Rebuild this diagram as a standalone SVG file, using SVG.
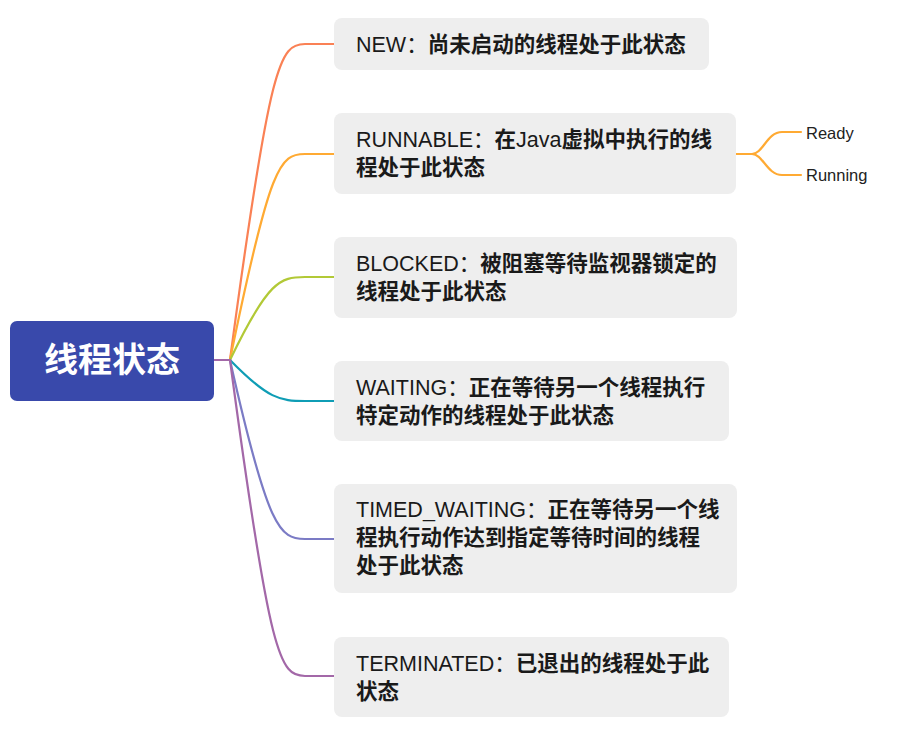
<svg xmlns="http://www.w3.org/2000/svg" width="906" height="734" viewBox="0 0 906 734">
<style>
.box{fill:#eeeeee;}
.t{font-family:"Liberation Sans","Noto Sans CJK SC",sans-serif;font-size:21.5px;fill:#1a1a1a;}
.b{font-weight:bold;}
.sub{font-family:"Liberation Sans","Noto Sans CJK SC",sans-serif;font-size:16.5px;fill:#222;}
.ln{fill:none;stroke-width:2.2;stroke-linecap:round;}
</style>
<rect width="906" height="734" fill="#ffffff"/>
<g id="connectors">
<path class="ln" stroke="#FA8155" d="M230,360 C270,60 280,44 305,44 L334,44"/>
<path class="ln" stroke="#FFAA33" d="M230,360 C270,164 280,154 305,154 L334,154"/>
<path class="ln" stroke="#B2C936" d="M230,360 C268,281 280,277 305,277 L334,277"/>
<path class="ln" stroke="#0F9DB5" d="M230,360 C268,399 280,401 305,401 L334,401"/>
<path class="ln" stroke="#7B7BC5" d="M230,360 C268,530 280,539 305,539 L334,539"/>
<path class="ln" stroke="#A368A8" d="M230,360 C270,660 280,676 305,676 L334,676"/>
<path class="ln" stroke="#A368A8" d="M214,360 L230,360"/>
<path class="ln" stroke="#FFAA33" d="M736,154 L752,154 C763,154 767,132 782,132 L801,132"/>
<path class="ln" stroke="#FFAA33" d="M752,154 C763,154 767,175 782,175 L801,175"/>
</g>
<g id="root">
<rect x="10" y="321" width="204" height="80" rx="7" fill="#3949AB"/>
<text x="112" y="372" text-anchor="middle" font-family="'Noto Sans CJK SC',sans-serif" font-size="34px" font-weight="bold" fill="#ffffff">线程状态</text>
</g>
<g id="node-new">
<rect class="box" x="334" y="18" width="375" height="52" rx="8"/>
<text class="t" x="356" y="52">NEW：<tspan class="b">尚未启动的线程处于此状态</tspan></text>
</g>
<g id="node-runnable">
<rect class="box" x="334" y="113" width="402" height="81" rx="8"/>
<text class="t" x="356" y="147">RUNNABLE：<tspan class="b">在</tspan>Java<tspan class="b">虚拟中执行的线</tspan></text>
<text class="t b" x="356" y="175">程处于此状态</text>
</g>
<g id="node-ready">
<text class="sub" x="806" y="139">Ready</text>
</g>
<g id="node-running">
<text class="sub" x="806" y="181">Running</text>
</g>
<g id="node-blocked">
<rect class="box" x="334" y="237" width="403" height="81" rx="8"/>
<text class="t" x="356" y="271">BLOCKED：<tspan class="b">被阻塞等待监视器锁定的</tspan></text>
<text class="t b" x="356" y="299">线程处于此状态</text>
</g>
<g id="node-waiting">
<rect class="box" x="334" y="361" width="395" height="80" rx="8"/>
<text class="t" x="356" y="395">WAITING：<tspan class="b">正在等待另一个线程执行</tspan></text>
<text class="t b" x="356" y="423">特定动作的线程处于此状态</text>
</g>
<g id="node-timed">
<rect class="box" x="334" y="484" width="403" height="109" rx="8"/>
<text class="t" x="356" y="517">TIMED_WAITING：<tspan class="b">正在等待另一个线</tspan></text>
<text class="t b" x="356" y="545">程执行动作达到指定等待时间的线程</text>
<text class="t b" x="356" y="573">处于此状态</text>
</g>
<g id="node-terminated">
<rect class="box" x="334" y="637" width="395" height="80" rx="8"/>
<text class="t" x="356" y="671">TERMINATED：<tspan class="b">已退出的线程处于此</tspan></text>
<text class="t b" x="356" y="699">状态</text>
</g>
</svg>
